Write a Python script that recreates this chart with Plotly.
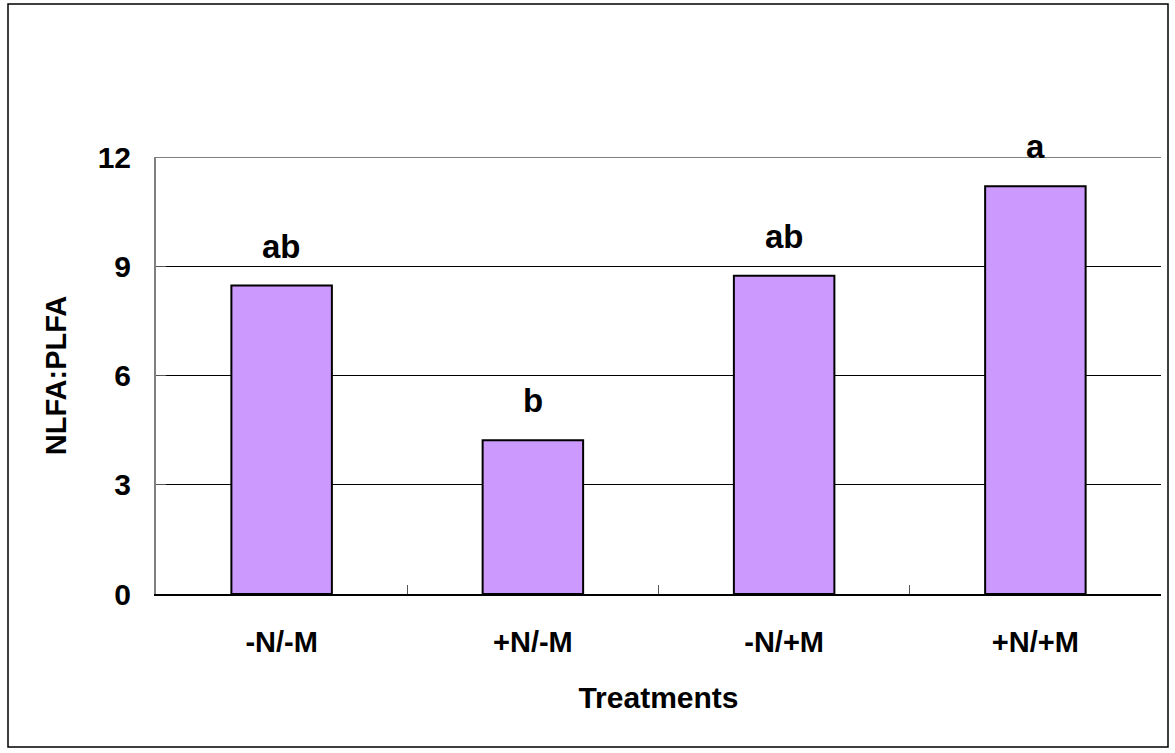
import plotly.graph_objects as go

categories = ["-N/-M", "+N/-M", "-N/+M", "+N/+M"]
values = [8.47, 4.22, 8.74, 11.2]
letters = ["ab", "b", "ab", "a"]
y_ticks = [0, 3, 6, 9, 12]

FONT = "Liberation Sans, Arial, sans-serif"

fig = go.Figure()
fig.add_trace(go.Bar(
    x=categories, y=values, width=0.4,
    marker=dict(color="#CC99FF", line=dict(color="black", width=2)),
    hoverinfo="skip",
))

for c, v, t in zip(categories, values, letters):
    fig.add_annotation(x=c, y=v, text=t, showarrow=False, yanchor="bottom",
                       yshift=19, font=dict(family=FONT, size=33, color="black", weight="bold"))

W, H = 1175, 753
L, R, T, B = 156, 14, 157, 159
pw, ph = W - L - R, H - T - B

def px(x):
    return (x - L) / pw

def py(y):
    return (H - B - y) / ph

# outer frame around the whole chart
fig.add_shape(type="rect", xref="paper", yref="paper",
              x0=px(8), x1=px(1168), y0=py(747), y1=py(4),
              line=dict(color="black", width=1.5), fillcolor="rgba(0,0,0,0)", layer="below")
# top gridline at the range maximum
fig.add_shape(type="line", xref="paper", yref="y", x0=0, x1=1, y0=y_ticks[-1], y1=y_ticks[-1],
              line=dict(color="black", width=1), layer="below")

fig.update_layout(
    width=W, height=H,
    margin=dict(l=L, r=R, t=T, b=B),
    paper_bgcolor="white", plot_bgcolor="white",
    showlegend=False,
    font=dict(family=FONT, color="black"),
    xaxis=dict(
        showline=True, linecolor="black", linewidth=1.5,
        ticks="inside", tickson="boundaries", ticklen=9, tickcolor="#555555", tickwidth=1,
        tickfont=dict(size=29, weight="bold"),
        ticklabelstandoff=21,
        title=dict(text="Treatments", font=dict(size=30, weight="bold"), standoff=30),
        showgrid=False,
    ),
    yaxis=dict(
        range=[0, 12], tickvals=y_ticks,
        showline=True, linecolor="#808080", linewidth=2,
        ticks="inside", ticklen=10, tickcolor="#555555", tickwidth=1,
        tickfont=dict(size=30, weight="bold"),
        ticklabelstandoff=17,
        showgrid=True, gridcolor="black", gridwidth=1,
        zeroline=False,
        title=dict(text="NLFA:PLFA", font=dict(size=29, weight="bold"), standoff=22),
    ),
)

fig.write_html("out.html", config={"displayModeBar": False},
               post_script="document.body.style.margin='0';document.body.style.overflow='hidden';")
